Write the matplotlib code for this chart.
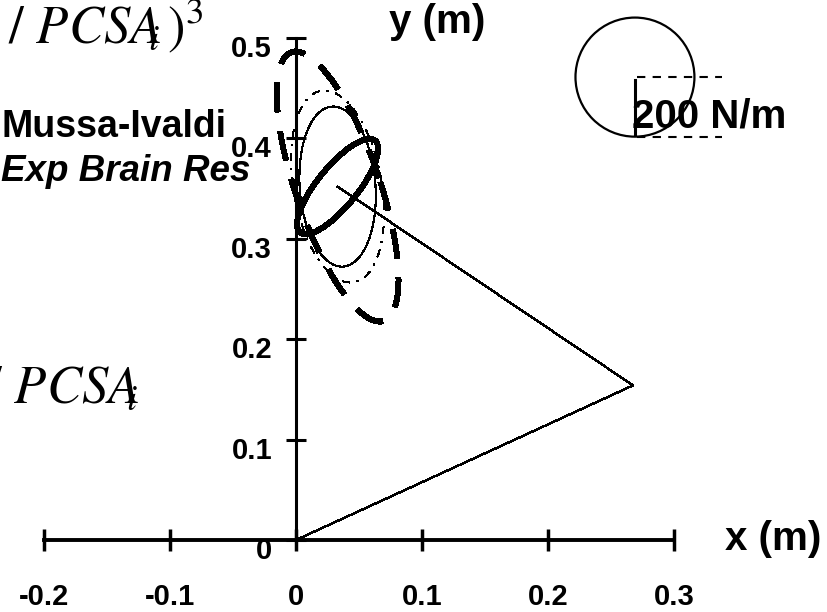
import matplotlib.pyplot as plt
from matplotlib.patches import Ellipse
from matplotlib.transforms import ScaledTranslation

plt.rcParams['font.family'] = ['Liberation Sans', 'DejaVu Sans']
plt.rcParams['mathtext.fontset'] = 'stix'

# Arm posture: shoulder, elbow, hand (m)
arm_x = [0.0, 0.2675, 0.033]
arm_y = [0.0, 0.154, 0.352]

# Endpoint stiffness ellipses drawn at the hand: semi-axes (m), orientation (deg)
ellipse_a = [0.1388, 0.0963, 0.0798, 0.0548]
ellipse_b = [0.0340, 0.0352, 0.0301, 0.0171]
ellipse_angle = [104.8, 97.1, 92.9, 58.4]

# 200 N/m reference circle
ref_center = (0.269, 0.461)
ref_rx = 0.0472
ref_ry = 0.0593

xticks = [-0.2, -0.1, 0, 0.1, 0.2, 0.3]
xtick_labels = ["-0.2", "-0.1", "0", "0.1", "0.2", "0.3"]
yticks = [0, 0.1, 0.2, 0.3, 0.4, 0.5]
ytick_labels = ["0", "0.1", "0.2", "0.3", "0.4", "0.5"]

# line styles for the four ellipses (outer dashed, dash-dot, thin, thick)
ell_lw = [3.5, 0.9, 0.8, 3.6]
ell_ls = [(0, (6, 4)), (0, (6, 6, 1.5, 6)), '-', '-']

fig = plt.figure(figsize=(8.28, 6.12), dpi=100)
ax = fig.add_axes([0, 0, 1, 1])
ax.set_xlim(-0.2349, 0.4222)
ax.set_ylim(-0.0717, 0.5378)
ax.patch.set_alpha(0)

# axes crossing at the origin
for side in ["top", "right"]:
    ax.spines[side].set_visible(False)
ax.spines["left"].set_position(("data", 0))
ax.spines["bottom"].set_position(("data", 0))
ax.spines["left"].set_bounds(0, 0.5)
ax.spines["bottom"].set_bounds(-0.2, 0.3)
ax.spines["left"].set_linewidth(2.2)
ax.spines["bottom"].set_linewidth(2.8)

ax.set_xticks(xticks, xtick_labels)
ax.set_yticks(yticks, ytick_labels)
ax.tick_params(axis="x", direction="inout", length=16, width=2.5, pad=23,
               labelsize=21)
ax.tick_params(axis="y", direction="inout", length=14.5, width=2.2, pad=10,
               labelsize=21)
for lab in ax.get_xticklabels():
    lab.set_fontweight("bold")
# y labels sit a little below their ticks
shift_down = ScaledTranslation(0, -0.08, fig.dpi_scale_trans)
for lab in ax.get_yticklabels():
    lab.set_fontweight("bold")
    lab.set_transform(lab.get_transform() + shift_down)

# arm segments
ax.plot(arm_x, arm_y, color="black", lw=1.0, antialiased=False)

# stiffness ellipses
hand = (arm_x[2], arm_y[2])
for a, b, ang, lw, ls in zip(ellipse_a, ellipse_b, ellipse_angle, ell_lw, ell_ls):
    ax.add_patch(Ellipse(hand, 2 * a, 2 * b, angle=ang, fill=False,
                         ec="black", lw=lw, ls=ls, antialiased=False))

# scale circle with its radius marked
cx, cy = ref_center
ax.add_patch(Ellipse(ref_center, 2 * ref_rx, 2 * ref_ry, fill=False,
                     ec="black", lw=1.6))
ax.plot([cx + 0.0015, cx + 0.069], [cy, cy], color="black", lw=1.5, ls=(0, (4, 3.5)))
ax.plot([cx + 0.0015, cx + 0.069], [cy - ref_ry, cy - ref_ry], color="black",
        lw=1.5, ls=(0, (4, 3.5)))
ax.plot([cx, cx], [cy - 0.003, cy - ref_ry + 0.003], color="black", lw=2.2)
ax.text(cx - 0.002, cy - ref_ry + 0.009, "200 N/m", fontsize=29,
        fontweight="bold", ha="left", va="baseline")

# axis names
fig.text(389 / 828, 1 - 33 / 612, "y (m)", fontsize=29, fontweight="bold",
         ha="left", va="baseline")
fig.text(725 / 828, 1 - 550 / 612, "x (m)", fontsize=29, fontweight="bold",
         ha="left", va="baseline")

# reference
fig.text(1 / 828, 1 - 137 / 612, "Mussa-Ivaldi", fontsize=27,
         fontweight="bold", ha="left", va="baseline")
fig.text(1 / 828, 1 - 181 / 612, "Exp Brain Res", fontsize=26.5,
         fontweight="bold", style="italic", ha="left", va="baseline")

# stiffness scaling formulas
fig.text(8 / 828, 1 - 43 / 612, r"$/\ PCSA_{\!\!\!i}\,)^3$", fontsize=38,
         ha="left", va="baseline")
fig.text(-14 / 828, 1 - 403 / 612, r"$/\ PCSA_{\!\!\!i}$", fontsize=38,
         ha="left", va="baseline")

fig.savefig("out.png", dpi=100)
